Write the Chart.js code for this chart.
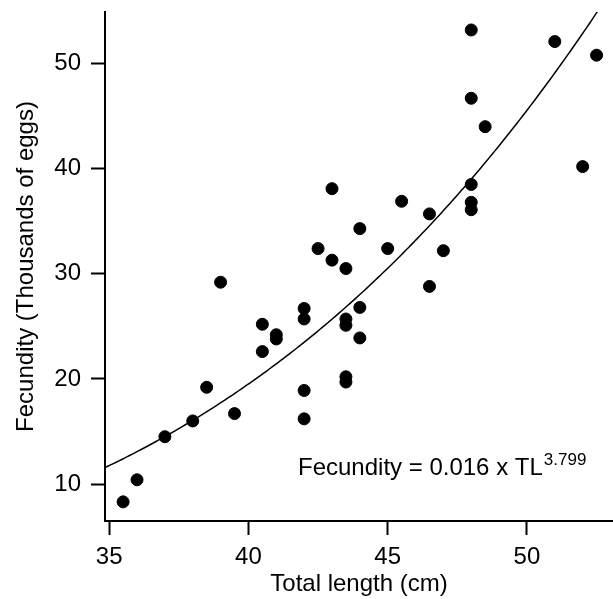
<!DOCTYPE html>
<html>
<head>
<meta charset="utf-8">
<script src="https://cdn.jsdelivr.net/npm/chart.js@4/dist/chart.umd.min.js"></script>
<style>
  html, body { margin: 0; padding: 0; background: #fff; }
  #wrap { width: 613px; height: 599px; }
</style>
</head>
<body>
<div id="wrap"><canvas id="fecChart" width="613" height="599"></canvas></div>
<script>
// Total length (cm) and fecundity (thousands of eggs)
const lengthCm = [
    35.5, 36, 37, 38, 38.5, 39, 39.5,
    40.5, 40.5, 41, 41,
    42, 42, 42, 42, 42.5,
    43, 43, 43.5, 43.5, 43.5, 43.5, 43.5,
    44, 44, 44, 45, 45.5, 46.5, 46.5, 47,
    48, 48, 48, 48, 48, 48.5, 51, 52, 52.5
];
const fecundity = [
    8.3, 10.4, 14.5, 16.0, 19.2, 29.2, 16.7,
    25.2, 22.6, 24.2, 23.8,
    26.7, 25.7, 18.9, 16.2, 32.4,
    38.1, 31.3, 30.5, 25.7, 25.1, 20.2, 19.7,
    34.3, 26.8, 23.9, 32.4, 36.9, 35.7, 28.8, 32.2,
    53.2, 46.7, 38.5, 36.8, 36.1, 44.0, 52.1, 40.2, 50.8
];

const xTicks = [35, 40, 45, 50];
const yTicks = [10, 20, 30, 40, 50];

// fitted curve printed on the figure: Fecundity = 0.016 x TL^3.799 (eggs -> thousands)
const fitA = 0.016;
const fitB = 3.799;
const fitLabel = 'Fecundity = 0.016 x TL';
const fitPower = '3.799';

const xMin = 34.85, xMax = 53.09;
const yMin = 6.48, yMax = 54.91;

const curve = [];
for (let x = xMin; x <= 52.8; x += 0.1) {
    curve.push({ x: x, y: fitA * Math.pow(x, fitB) / 1000 });
}

const points = lengthCm.map((x, i) => ({ x: x, y: fecundity[i] }));

const FONT = "'Liberation Sans', Arial, sans-serif";

// equation text in the lower right
const equationPlugin = {
    id: 'equation',
    afterDatasetsDraw(chart) {
        const ctx = chart.ctx;
        const xs = chart.scales.x, ys = chart.scales.y;
        const px = xs.getPixelForValue(41.78);
        const py = ys.getPixelForValue(10.83);
        ctx.save();
        ctx.fillStyle = '#000';
        ctx.textBaseline = 'alphabetic';
        ctx.textAlign = 'left';
        ctx.font = '24px ' + FONT;
        ctx.fillText(fitLabel, px, py);
        const w = ctx.measureText(fitLabel).width;
        ctx.font = '17px ' + FONT;
        ctx.fillText(fitPower, px + w + 1, py - 10);
        ctx.restore();
    }
};

// drop the label padding Chart.js reserves at the axis ends
function noEdgePad(s) {
    s.paddingTop = 0;
    s.paddingBottom = 0;
    s.paddingLeft = 0;
    s.paddingRight = 0;
}

document.addEventListener('DOMContentLoaded', () => {
    const ctx = document.getElementById('fecChart').getContext('2d');
    new Chart(ctx, {
        type: 'scatter',
        data: {
            datasets: [{
                label: 'Observed',
                data: points,
                backgroundColor: '#000',
                borderColor: '#000',
                pointRadius: 6,
                pointHoverRadius: 6,
                order: 0
            }, {
                label: 'Fit',
                data: curve,
                showLine: true,
                pointRadius: 0,
                borderColor: '#000',
                borderWidth: 1.5,
                fill: false,
                order: 1
            }]
        },
        options: {
            responsive: false,
            animation: false,
            devicePixelRatio: 1,
            layout: { autoPadding: false, padding: { top: 12, right: 0, left: 0, bottom: 0 } },
            plugins: {
                legend: { display: false },
                tooltip: { enabled: false }
            },
            scales: {
                x: {
                    type: 'linear',
                    min: xMin,
                    max: xMax,
                    afterBuildTicks: (s) => { s.ticks = xTicks.map(v => ({ value: v })); },
                    afterFit: (s) => { s.height = 78; noEdgePad(s); },
                    border: { display: true, color: '#000', width: 2 },
                    grid: { drawOnChartArea: false, drawTicks: true, tickLength: 14, tickColor: '#000', tickWidth: 2 },
                    ticks: { color: '#000', font: { family: FONT, size: 24 }, padding: 8 },
                    title: {
                        display: true,
                        text: 'Total length (cm)',
                        color: '#000',
                        font: { family: FONT, size: 24 },
                        padding: { top: 0, bottom: 0 }
                    }
                },
                y: {
                    type: 'linear',
                    min: yMin,
                    max: yMax,
                    afterBuildTicks: (s) => { s.ticks = yTicks.map(v => ({ value: v })); },
                    afterFit: (s) => { s.width = 105; noEdgePad(s); },
                    border: { display: true, color: '#000', width: 2 },
                    grid: { drawOnChartArea: false, drawTicks: true, tickLength: 14, tickColor: '#000', tickWidth: 2 },
                    ticks: { color: '#000', font: { family: FONT, size: 24 }, padding: 10 },
                    title: {
                        display: true,
                        text: 'Fecundity (Thousands of eggs)',
                        color: '#000',
                        font: { family: FONT, size: 24 },
                        padding: { top: 12, bottom: 0 }
                    }
                }
            }
        },
        plugins: [equationPlugin]
    });
});
</script>
</body>
</html>
